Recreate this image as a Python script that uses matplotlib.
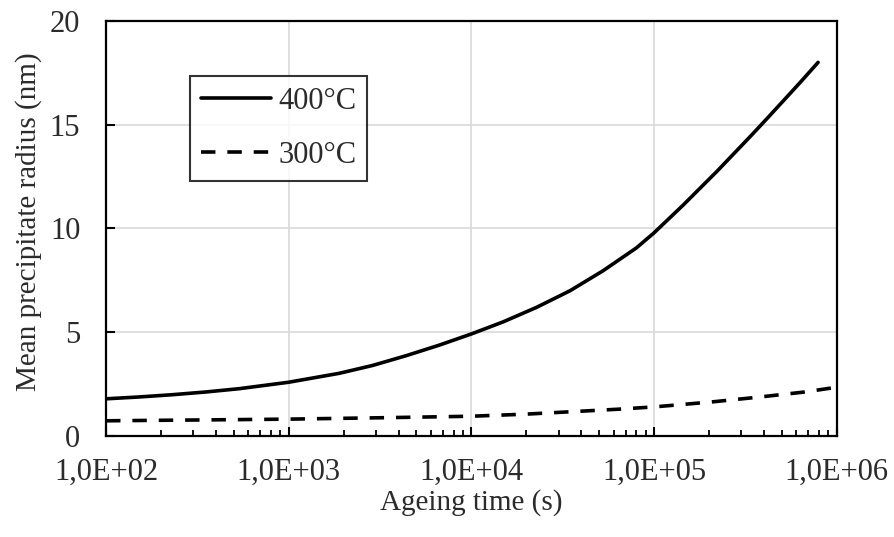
import math
import matplotlib
matplotlib.use("Agg")
import matplotlib.pyplot as plt
from matplotlib.ticker import FixedLocator, LogLocator, NullFormatter, FuncFormatter

# Data
t_400 = [100, 152, 232, 352, 537, 1000, 1890, 2880, 4390, 6670, 1e4, 1.49e4, 2.27e4,
         3.46e4, 5.26e4, 8.0e4, 1e5, 1.44e5, 2.2e5, 3.34e5, 4.12e5, 5.09e5, 6.27e5, 7.9e5]
r_400 = [1.77, 1.86, 1.97, 2.10, 2.26, 2.57, 3.00, 3.38, 3.85, 4.36, 4.90, 5.48, 6.18,
         6.98, 7.95, 9.05, 9.78, 11.11, 12.73, 14.40, 15.26, 16.14, 17.01, 18.00]

t_300 = [100, 324, 1000, 3390, 1e4, 1.98e4, 3.55e4, 6.4e4, 1e5, 2.07e5, 3.72e5, 6.68e5, 1e6]
r_300 = [0.71, 0.75, 0.79, 0.86, 0.93, 1.03, 1.15, 1.27, 1.38, 1.62, 1.85, 2.10, 2.33]

labels = ["400°C", "300°C"]
xticks = [1e2, 1e3, 1e4, 1e5, 1e6]
yticks = [0, 5, 10, 15, 20]

plt.rcParams['font.family'] = ['Liberation Serif', 'DejaVu Serif']
txtcol = '#2b2b2b'

fig = plt.figure(figsize=(8.94, 5.37), dpi=100)
ax = fig.add_axes([0.1186, 0.189, 0.8174, 0.772])

ax.plot(t_400, r_400, color='black', lw=2.6, solid_capstyle='round',
        solid_joinstyle='round', label=labels[0])
ax.plot(t_300, r_300, color='black', lw=2.6, ls=(0, (4.0, 3.3)), label=labels[1])

ax.set_xscale('log')
ax.set_xlim(1e2, 1e6)
ax.set_ylim(0, 20)
ax.xaxis.set_major_locator(FixedLocator(xticks))
ax.xaxis.set_minor_locator(LogLocator(base=10, subs=range(2, 10)))
ax.xaxis.set_minor_formatter(NullFormatter())
ax.xaxis.set_major_formatter(FuncFormatter(lambda v, p: "1,0E+%02d" % round(math.log10(v))))
ax.set_yticks(yticks)

ax.grid(True, which='major', color='#d9d9d9', lw=1.2)
ax.set_axisbelow(True)
for s in ax.spines.values():
    s.set_linewidth(1.6)
    s.set_color('black')

ax.tick_params(axis='both', which='major', direction='in', length=6.5, width=1.5,
               labelsize=22, labelcolor=txtcol, color='black')
ax.tick_params(axis='x', which='major', pad=16)
ax.tick_params(axis='y', which='major', pad=18.5)
ax.tick_params(axis='x', which='minor', direction='in', length=4.5, width=1.3)

ax.set_xlabel("Ageing time (s)", fontsize=21, color=txtcol)
ax.set_ylabel("Mean precipitate radius (nm)", fontsize=21, color=txtcol)
ax.xaxis.set_label_coords(0.5, -0.128)
ax.yaxis.set_label_coords(-0.088, 0.516)

leg = ax.legend(loc='upper left', bbox_to_anchor=(0.115, 0.867), fontsize=22,
                frameon=True, fancybox=False, edgecolor='black', handlelength=2.3,
                handletextpad=0.22, borderpad=0.36, labelspacing=0.8, borderaxespad=0)
leg.get_frame().set_linewidth(1.5)
for txt in leg.get_texts():
    txt.set_color(txtcol)

fig.savefig("out.png", dpi=100, facecolor='white')
